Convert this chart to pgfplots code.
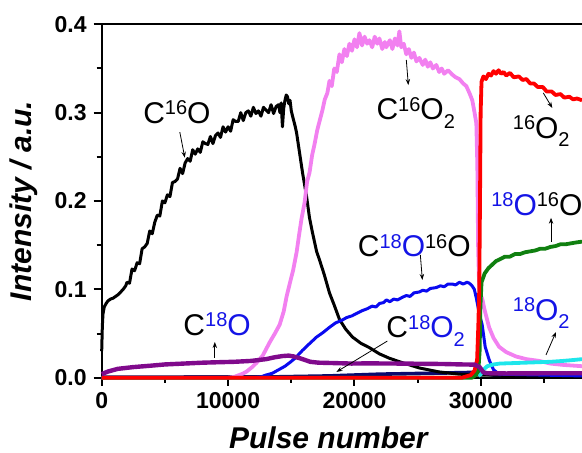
\documentclass[border=0pt]{standalone}
\usepackage{fontspec}
\setmainfont{Liberation Sans}
\usepackage{pgfplots}
\pgfplotsset{compat=1.18}
\usetikzlibrary{arrows.meta}
\definecolor{cpink}{RGB}{242,128,240}
\definecolor{cblue}{RGB}{10,10,240}
\definecolor{cgreen}{RGB}{16,128,16}
\definecolor{ccyan}{RGB}{30,230,235}
\definecolor{cpurple}{RGB}{128,10,140}
\definecolor{cnavy}{RGB}{10,10,110}
\definecolor{cred}{RGB}{255,0,0}
\definecolor{lblue}{RGB}{20,20,230}
\newcommand\ann{\fontsize{15}{17}\selectfont}
\newcommand\up[1]{\raisebox{4.2pt}{\fontsize{10}{10}\selectfont #1}}
\newcommand\dn[1]{\raisebox{-4.3pt}{\fontsize{10}{10}\selectfont #1}}
\begin{document}
\begin{tikzpicture}
\useasboundingbox (-50.85pt,-37.65pt) rectangle (240.15pt,188.85pt);
\begin{axis}[
 at={(0,0)}, anchor=south west, scale only axis,
 width=240.15pt, height=176.7pt,
 xmin=0, xmax=38000, ymin=0, ymax=0.4,
 axis x line*=box, axis y line*=left,
 xtick pos=left, ytick pos=left,
 axis line style={line width=1pt, black},
 tick style={line width=1pt, black},
 tick align=outside,
 major tick length=4pt, minor tick length=2.5pt,
 xtick={0,10000,20000,30000}, minor xtick={5000,15000,25000,35000},
 ytick={0,0.1,0.2,0.3,0.4}, minor ytick={0.05,0.15,0.25,0.35},
 scaled x ticks=false, scaled y ticks=false,
 /pgf/number format/assume math mode=true,
 xticklabel style={font=\fontsize{11.5}{12}\selectfont\bfseries, /pgf/number format/set thousands separator={}},
 yticklabel style={font=\fontsize{11.5}{12}\selectfont\bfseries, /pgf/number format/.cd, fixed, fixed zerofill, precision=1},
 xlabel={Pulse number},
 xlabel style={font=\fontsize{15}{17}\selectfont\bfseries\itshape, at={(axis description cs:0.4718,-0.201)}, anchor=base, text depth=0pt, inner sep=0pt},
 ylabel={Intensity / a.u.},
 ylabel style={font=\fontsize{15}{17}\selectfont\bfseries\itshape, at={(axis description cs:-0.1618,0.5)}, anchor=center},
 clip=false, no markers,
 every axis plot/.append style={line join=round},
]
% C18O2 (navy)
\addplot[cnavy, line width=1.8pt] coordinates {(0,0.0005) (14000,0.001) (18000,0.002) (22000,0.004) (26000,0.005) (29500,0.006) (30000,0.005) (31000,0.003) (38000,0.003)};
% C16O (black)
\addplot[black, line width=1.5pt] coordinates {
(0,0.030) (50,0.058) (100,0.072) (200,0.080) (350,0.084) (500,0.087) (700,0.089) (900,0.090) (1100,0.092) (1300,0.094) (1500,0.097) (1700,0.100) (1900,0.104)
(2000,0.108) (2200,0.107) (2400,0.123) (2600,0.121) (2800,0.130) (3000,0.129) (3200,0.146) (3400,0.148) (3600,0.152) (3800,0.166) (4000,0.163) (4200,0.176)
(4400,0.184) (4600,0.183) (4800,0.200) (5000,0.198) (5200,0.207) (5400,0.205) (5600,0.221) (5800,0.222) (6000,0.225) (6200,0.237) (6400,0.231) (6600,0.243)
(6800,0.248) (7000,0.245) (7200,0.258) (7400,0.253) (7600,0.259) (7800,0.255) (8000,0.267) (8200,0.265) (8400,0.264) (8600,0.273) (8800,0.265) (9000,0.274)
(9200,0.277) (9400,0.272) (9600,0.284) (9800,0.278) (10000,0.284) (10200,0.279) (10400,0.292) (10600,0.290) (10800,0.290) (11000,0.300) (11200,0.291) (11400,0.300)
(11600,0.302) (11800,0.296) (12000,0.306) (12200,0.299) (12400,0.302) (12600,0.296) (12800,0.306) (13000,0.303) (13200,0.300) (13400,0.309) (13600,0.299) (13800,0.307)
(14000,0.309) (14100,0.300) (14200,0.311) (14300,0.284) (14400,0.305) (14500,0.314) (14600,0.320) (14700,0.318) (14800,0.310) (14900,0.314) (15000,0.302) (15100,0.296)
(15300,0.285) (15420,0.277) (15660,0.254) (15890,0.232) (16210,0.205) (16440,0.181) (16680,0.164) (17000,0.143) (17240,0.133) (17600,0.117) (18020,0.096) (18400,0.082)
(18810,0.066) (19300,0.055) (19840,0.046) (20500,0.039) (21180,0.034) (21970,0.027) (22760,0.022) (23790,0.017) (25130,0.011) (26710,0.0065) (28290,0.004) (29700,0.003) (38000,0.002)};
% C16O2 (pink)
\addplot[cpink, line width=1.9pt] coordinates {
(0,0) (10000,0) (10500,0.001) (11155,0.0045) (11470,0.007) (11900,0.012) (12260,0.017) (12740,0.025) (13290,0.040) (13700,0.050) (14080,0.060) (14400,0.075)
(14630,0.092) (14870,0.106) (15150,0.122) (15420,0.142) (15600,0.160) (15810,0.180) (16050,0.198) (16250,0.222) (16440,0.232) (16650,0.252) (16850,0.265) (17050,0.280)
(17230,0.290) (17450,0.302) (17650,0.315) (17850,0.322) (18020,0.336) (18200,0.330) (18400,0.350) (18600,0.346) (18810,0.366) (19000,0.357) (19200,0.372) (19400,0.364)
(19600,0.378) (19800,0.370) (20000,0.383) (20200,0.374) (20390,0.390) (20600,0.376) (20800,0.386) (21000,0.378) (21180,0.382) (21400,0.374) (21600,0.386) (21800,0.378)
(21970,0.384) (22200,0.372) (22400,0.380) (22520,0.374) (22800,0.382) (23000,0.372) (23200,0.384) (23400,0.376) (23550,0.392) (23700,0.374) (23900,0.378) (24100,0.366)
(24300,0.372) (24500,0.362) (24700,0.368) (24900,0.358) (25130,0.362) (25400,0.354) (25600,0.360) (25800,0.352) (26000,0.357) (26200,0.350) (26470,0.354) (26700,0.346)
(26900,0.350) (27100,0.344) (27400,0.348) (27740,0.343) (28000,0.340) (28300,0.338) (28600,0.333) (28850,0.330) (29100,0.322) (29320,0.314) (29500,0.300) (29640,0.288)
(29720,0.240) (29780,0.150) (29850,0.110) (29950,0.095) (30130,0.088) (30270,0.078) (30650,0.057) (31000,0.045) (31440,0.035) (32000,0.029) (32780,0.024) (33600,0.021)
(34600,0.019) (35500,0.016) (36500,0.0145) (38000,0.013)};
% C18O16O (blue)
\addplot[cblue, line width=1.5pt] coordinates {
(0,0) (12000,0) (12600,0.001) (13000,0.003) (13500,0.005) (14000,0.009) (14500,0.013) (14870,0.017) (15300,0.022) (15890,0.031) (16400,0.038) (17000,0.046)
(17500,0.051) (18020,0.057) (18500,0.062) (19000,0.065) (19370,0.068) (19800,0.070) (20200,0.073) (20630,0.076) (21000,0.078) (21400,0.081) (21700,0.080) (21970,0.084)
(22300,0.085) (22520,0.088) (22800,0.086) (23100,0.089) (23400,0.088) (23790,0.091) (24100,0.093) (24400,0.092) (24700,0.096) (25130,0.097) (25400,0.099) (25700,0.098)
(26000,0.101) (26470,0.102) (26800,0.104) (27100,0.103) (27400,0.106) (27740,0.106) (28000,0.105) (28300,0.108) (28600,0.106) (28900,0.108) (29080,0.107) (29300,0.104)
(29480,0.100) (29640,0.090) (29800,0.078) (29950,0.068) (30100,0.060) (30340,0.035) (30660,0.020) (31000,0.009) (31440,0.004) (38000,0.002)};
% 18O2 (cyan)
\addplot[ccyan, line width=1.9pt] coordinates {(29800,0.002) (30000,0.004) (30200,0.009) (30500,0.013) (31000,0.015) (31500,0.016) (32500,0.0165) (33500,0.017) (34500,0.0175) (35500,0.018) (36500,0.019) (37300,0.020) (38000,0.021)};
% 18O16O (green)
\addplot[cgreen, line width=1.9pt] coordinates {
(0,0) (29300,0) (29600,0.003) (29800,0.008) (29900,0.030) (29960,0.080) (30050,0.108) (30300,0.118) (30600,0.124) (30900,0.128) (31200,0.132) (31500,0.134)
(31900,0.137) (32300,0.137) (32700,0.140) (33100,0.140) (33500,0.142) (33900,0.143) (34300,0.144) (34700,0.146) (35100,0.146) (35500,0.148) (35900,0.149) (36300,0.151)
(36700,0.151) (37100,0.152) (37500,0.153) (38000,0.154)};
% 16O2 (red)
\addplot[cred, line width=1.9pt] coordinates {
(0,0) (28500,0) (29200,0.003) (29500,0.008) (29700,0.020) (29800,0.060) (29870,0.100) (29930,0.200) (29980,0.300) (30050,0.335) (30200,0.341) (30400,0.338)
(30600,0.344) (30800,0.342) (31000,0.347) (31200,0.344) (31400,0.348) (31600,0.344) (31800,0.346) (32000,0.342) (32300,0.345) (32600,0.340) (33000,0.341) (33300,0.337)
(33600,0.338) (33900,0.333) (34200,0.333) (34500,0.329) (34900,0.329) (35200,0.324) (35600,0.324) (35900,0.320) (36300,0.321) (36600,0.317) (37000,0.318) (37300,0.315)
(37600,0.316) (38000,0.314)};
% C18O (purple)
\addplot[cpurple, line width=2.2pt] coordinates {
(0,0.004) (500,0.007) (1270,0.010) (2500,0.012) (3890,0.0136) (5000,0.015) (6500,0.016) (8000,0.017) (9200,0.0175) (10500,0.018) (11830,0.019) (13000,0.021)
(13650,0.023) (14300,0.0245) (14800,0.025) (15200,0.024) (15790,0.0215) (16500,0.018) (17140,0.017) (18500,0.0165) (19760,0.016) (21000,0.0162) (23490,0.016)
(25000,0.0158) (27000,0.0155) (28500,0.015) (29500,0.0148) (29900,0.012) (30200,0.006) (30500,0.005) (32000,0.0048) (35000,0.005) (38000,0.005)};
% labels
\begin{scope}[every node/.style={inner sep=0pt, anchor=base west, font=\ann}]
\node at (axis cs:3260,0.288) {C\up{16}O};
\node at (axis cs:21710,0.2917) {C\up{16}O\dn{2}};
\node at (axis cs:32500,0.271) {\up{16}O\dn{2}};
\node at (axis cs:20235,0.137) {C\textcolor{lblue}{\up{18}O}\up{16}O};
\node at (axis cs:22500,0.045) {C\textcolor{lblue}{\up{18}O\dn{2}}};
\node at (axis cs:6440,0.0483) {C\textcolor{lblue}{\up{18}O}};
\node at (axis cs:30790,0.184) {\textcolor{lblue}{\up{18}O}\up{16}O};
\node at (axis cs:32500,0.0653) {\textcolor{lblue}{\up{18}O\dn{2}}};
\end{scope}
\begin{scope}[line width=0.4pt, -{Stealth[length=3pt,width=2.2pt]}]
\draw (axis cs:6180,0.278) -- (axis cs:6575,0.249);
\draw (axis cs:24100,0.3596) -- (axis cs:24260,0.3312);
\draw (axis cs:34940,0.3223) -- (axis cs:35650,0.3053);
\draw (axis cs:25210,0.1389) -- (axis cs:25370,0.1106);
\draw (axis cs:22600,0.0415) -- (axis cs:18570,0.0065);
\draw (axis cs:8950,0.0223) -- (axis cs:8950,0.0404);
\draw (axis cs:35550,0.1536) -- (axis cs:35550,0.181);
\draw (axis cs:35150,0.0257) -- (axis cs:35940,0.0517);
\end{scope}
\end{axis}
\end{tikzpicture}
\end{document}
